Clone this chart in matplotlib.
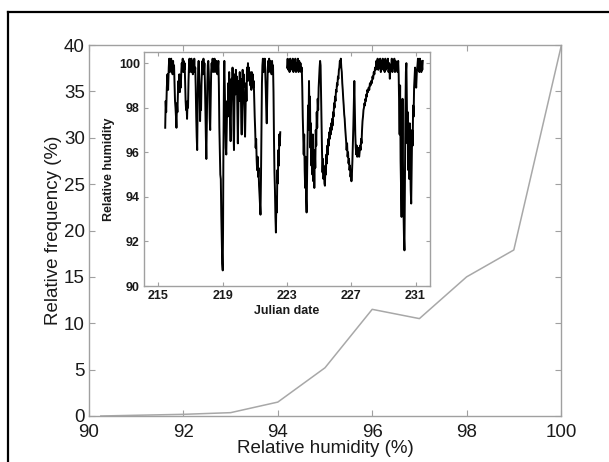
import numpy as np
import matplotlib
matplotlib.use("Agg")
import matplotlib.pyplot as plt
from matplotlib.lines import Line2D

plt.rcParams['font.family'] = ['Liberation Sans', 'DejaVu Sans']

# main panel: frequency distribution of relative humidity
rh_bins = [90.25, 91, 92, 93, 94, 95, 96, 97, 98, 99, 100]
rel_freq = [0.0, 0.08, 0.18, 0.36, 1.5, 5.2, 11.5, 10.5, 15.0, 17.9, 39.8]

# inset: relative humidity time series (Julian date, RH)
jd = [215.42, 215.45, 215.48, 215.52, 215.56, 215.60, 215.64, 215.67, 215.70, 215.73,
      215.76, 215.79, 215.82, 215.85, 215.88, 215.91, 215.94, 215.97, 216.00, 216.03,
      216.06, 216.09, 216.12, 216.15, 216.18, 216.21, 216.24, 216.27, 216.30, 216.33,
      216.36, 216.39, 216.42, 216.45, 216.48, 216.51, 216.54, 216.57, 216.60, 216.63,
      216.66, 216.69, 216.72, 216.75, 216.78, 216.81, 216.84, 216.87, 216.90, 216.93,
      216.96, 216.99, 217.02, 217.05, 217.08, 217.11, 217.14, 217.17, 217.20, 217.23,
      217.26, 217.29, 217.32, 217.35, 217.38, 217.41, 217.44, 217.47, 217.50, 217.53,
      217.56, 217.59, 217.62, 217.65, 217.68, 217.71, 217.74, 217.77, 217.80, 217.83,
      217.86, 217.89, 217.92, 217.95, 217.98, 218.01, 218.04, 218.07, 218.10, 218.13,
      218.16, 218.19, 218.22, 218.25, 218.28, 218.31, 218.34, 218.37, 218.40, 218.43,
      218.46, 218.49, 218.52, 218.55, 218.58, 218.61, 218.64, 218.67, 218.70, 218.73,
      218.76, 218.79, 218.82, 218.85, 218.88, 218.91, 218.94, 218.97, 219.00, 219.02,
      219.04, 219.06, 219.08, 219.10, 219.13, 219.16, 219.19, 219.22, 219.25, 219.28,
      219.31, 219.34, 219.37, 219.40, 219.43, 219.46, 219.49, 219.52, 219.55, 219.58,
      219.61, 219.64, 219.67, 219.70, 219.73, 219.76, 219.79, 219.82, 219.85, 219.88,
      219.91, 219.94, 219.97, 220.00, 220.03, 220.06, 220.09, 220.12, 220.15, 220.18,
      220.21, 220.24, 220.27, 220.30, 220.33, 220.36, 220.39, 220.42, 220.45, 220.48,
      220.51, 220.54, 220.57, 220.60, 220.63, 220.66, 220.69, 220.72, 220.75, 220.78,
      220.81, 220.84, 220.87, 220.90, 220.93, 220.96, 220.99, 221.02, 221.05, 221.08,
      221.11, 221.14, 221.17, 221.20, 221.23, 221.26, 221.29, 221.32, 221.35, 221.38,
      221.41, 221.44, 221.47, 221.50, 221.53, 221.56, 221.59, 221.62, 221.65, 221.68,
      221.71, 221.74, 221.77, 221.80, 221.83, 221.86, 221.89, 221.92, 221.95, 221.98,
      222.01, 222.04, 222.07, 222.10, 222.13, 222.16, 222.19, 222.22, 222.25, 222.28,
      222.31, 222.34, 222.37, 222.40, 222.43, 222.46, 222.49, 222.52, 222.55, 222.58,
      222.80,
      223.00, 223.04, 223.08, 223.12, 223.16, 223.20, 223.24, 223.28, 223.32, 223.36,
      223.40, 223.44, 223.48, 223.52, 223.56, 223.60, 223.64, 223.68, 223.72, 223.76,
      223.80, 223.84, 223.88, 223.92, 223.95, 223.98, 224.01, 224.04, 224.07, 224.10,
      224.13, 224.16, 224.19, 224.22, 224.25, 224.28, 224.31, 224.34, 224.37, 224.40,
      224.43, 224.46, 224.49, 224.52, 224.55, 224.58, 224.61, 224.64, 224.67, 224.70,
      224.73, 224.76, 224.79, 224.82, 224.85, 224.88, 224.91, 224.94, 224.97, 225.00,
      225.03, 225.06, 225.09, 225.12, 225.15, 225.18, 225.21, 225.24, 225.27, 225.30,
      225.33, 225.36, 225.39, 225.42, 225.45, 225.48, 225.51, 225.54, 225.57, 225.60,
      225.63, 225.66, 225.69, 225.72, 225.75, 225.78, 225.81, 225.84, 225.87, 225.90,
      225.93, 225.96, 225.99, 226.02, 226.05, 226.08, 226.11, 226.14, 226.17, 226.20,
      226.23, 226.26, 226.29, 226.32, 226.35, 226.38, 226.41, 226.44, 226.47, 226.50,
      226.53, 226.56, 226.59, 226.62, 226.65, 226.68, 226.71, 226.74, 226.77, 226.80,
      226.83, 226.86, 226.89, 226.92, 226.95, 226.98, 227.01, 227.04, 227.07, 227.10,
      227.13, 227.16, 227.19, 227.22, 227.25, 227.28, 227.31, 227.34, 227.37, 227.40,
      227.43, 227.46, 227.49, 227.52, 227.55, 227.58, 227.61, 227.64, 227.67, 227.70,
      227.73, 227.76, 227.79, 227.82, 227.85, 227.88, 227.91, 227.94, 227.97, 228.00,
      228.04, 228.08, 228.12, 228.16, 228.20, 228.24, 228.28, 228.32, 228.36, 228.40,
      228.44, 228.48, 228.52, 228.56, 228.60, 228.64, 228.68, 228.72, 228.76, 228.80,
      228.84, 228.88, 228.92, 228.96, 229.00, 229.04, 229.08, 229.12, 229.16, 229.20,
      229.24, 229.28, 229.32, 229.36, 229.40, 229.44, 229.48, 229.52, 229.56, 229.60,
      229.64, 229.68, 229.72, 229.76, 229.80, 229.84, 229.88, 229.92, 229.95, 229.98,
      230.01, 230.04, 230.07, 230.10, 230.13, 230.16, 230.19, 230.22, 230.25, 230.28,
      230.31, 230.34, 230.37, 230.40, 230.43, 230.46, 230.49, 230.52, 230.55, 230.58,
      230.61, 230.64, 230.67, 230.70, 230.73, 230.76, 230.79, 230.82, 230.85, 230.88,
      230.91, 230.94, 230.97, 231.00, 231.04, 231.08, 231.12, 231.15, 231.18, 231.21,
      231.24, 231.27, 231.30, 231.33, 231.36, 231.39, 231.42, 231.45]

rh = [97.1, 98.3, 97.8, 98.9, 99.5, 98.8, 99.8, 100.2, 99.6, 100.1,
      99.7, 100.2, 99.6, 100.0, 99.5, 100.1, 99.6, 99.9, 99.0, 98.3,
      98.0, 97.6, 97.1, 98.2, 97.8, 98.6, 99.2, 98.8, 99.5, 98.7,
      99.3, 98.9, 99.6, 100.0, 99.7, 100.2, 99.6, 100.1, 99.7, 100.0,
      99.1, 98.3, 97.9, 98.1, 97.5, 98.3, 98.0, 99.2, 99.9, 100.2,
      99.6, 100.1, 99.7, 100.2, 99.6, 100.0, 99.5, 100.1, 99.7, 100.2,
      99.6, 99.8, 98.9, 97.6, 96.7, 96.1, 98.2, 99.7, 100.1, 99.5,
      98.9, 97.4, 98.3, 97.9, 99.1, 99.8, 100.1, 99.5, 100.2, 99.6,
      100.0, 99.2, 97.9, 96.7, 95.7, 97.3, 99.0, 99.9, 100.1, 99.6,
      98.8, 97.5, 97.0, 98.4, 99.6, 100.0, 99.7, 100.2, 99.6, 100.1,
      99.7, 100.2, 99.6, 100.0, 99.7, 100.1, 99.8, 99.5, 99.8, 100.1,
      99.0, 97.1, 96.0, 95.0, 94.8, 93.2, 92.0, 91.0, 90.7, 92.5,
      95.8, 97.8, 99.5, 100.1, 98.7, 97.4, 96.2, 95.9, 97.1, 98.3,
      97.6, 99.1, 98.4, 99.6, 98.7, 97.3, 96.5, 98.1, 99.3, 98.5,
      99.8, 98.9, 97.0, 96.1, 98.2, 99.5, 98.6, 99.7, 98.8, 99.4,
      97.9, 96.4, 97.8, 99.2, 98.3, 99.6, 98.5, 99.3, 97.6, 96.8,
      98.4, 99.7, 98.9, 99.5, 98.2, 97.4, 96.7, 98.0, 99.1, 98.3,
      99.8, 99.2, 100.0, 99.4, 99.8, 99.2, 99.6, 99.0, 99.4, 98.8,
      99.6, 99.1, 99.5, 98.9, 99.2, 98.4, 97.6, 97.0, 96.2, 96.6,
      95.7, 95.2, 95.8, 94.9, 95.3, 94.5, 94.1, 93.6, 93.2, 94.8,
      97.2, 99.1, 99.9, 100.2, 99.6, 100.1, 99.7, 100.2, 99.5, 98.8,
      97.9, 97.3, 98.6, 99.7, 100.1, 99.6, 100.2, 99.7, 100.1, 99.6,
      100.0, 99.5, 100.1, 99.7, 99.9, 98.7, 96.6, 95.1, 94.3, 93.1,
      92.4, 94.0, 93.3, 95.2, 94.6, 96.1, 95.4, 96.8, 96.3, 96.9,
      np.nan,
      99.8, 100.2, 99.7, 100.1, 99.6, 100.2, 99.7, 100.1, 99.8, 100.2,
      99.6, 100.1, 99.7, 100.2, 99.6, 100.0, 99.7, 100.2, 99.6, 100.1,
      99.7, 100.0, 99.6, 99.8, 98.9, 97.6, 96.7, 95.9, 96.8, 95.2,
      94.4, 95.8, 93.9, 93.3, 95.0, 96.9, 98.1, 97.0, 99.2, 97.4,
      98.5, 96.2, 97.3, 95.4, 96.6, 95.0, 96.8, 94.7, 95.9, 94.4,
      96.1, 95.3, 97.0, 96.3, 97.8, 97.1, 98.4, 97.9, 98.9, 99.4,
      99.8, 100.1, 99.9, 98.6, 97.2, 96.0, 95.1, 95.7, 94.8, 95.3,
      94.6, 94.5, 95.4, 95.0, 95.9, 95.5, 96.3, 95.9, 96.6, 96.3,
      96.9, 96.6, 97.1, 96.8, 97.3, 97.0, 97.5, 97.2, 97.8, 97.6,
      98.2, 98.0, 98.5, 98.3, 98.8, 98.7, 99.1, 99.0, 99.4, 99.3,
      99.7, 99.8, 100.1, 99.9, 100.2, 99.8, 99.6, 99.1, 98.8, 98.4,
      98.1, 97.7, 97.5, 97.1, 96.8, 96.5, 96.1, 96.4, 95.8, 96.0,
      95.5, 95.7, 95.2, 95.4, 94.9, 95.1, 94.7, 95.0, 95.6, 96.4,
      97.2, 98.3, 99.2, 98.0, 96.8, 96.2, 95.9, 96.3, 95.8, 96.1,
      95.9, 96.2, 95.8, 96.0, 96.3, 96.1, 96.6, 96.4, 97.0, 97.4,
      97.6, 97.9, 98.0, 98.2, 98.1, 98.4, 98.3, 98.6, 98.5, 98.8,
      98.7, 98.9, 98.8, 99.1, 99.0, 99.2, 99.1, 99.4, 99.3, 99.6,
      99.5, 99.8, 99.7, 100.1, 99.8, 100.2, 99.7, 100.1, 99.8, 100.2,
      99.6, 100.1, 99.8, 100.2, 99.7, 100.0, 99.6, 100.2, 99.7, 100.1,
      99.8, 100.2, 99.6, 100.0, 99.3, 99.9, 99.7, 100.2, 99.6, 100.1,
      99.8, 100.2, 99.6, 100.1, 99.7, 100.0, 99.6, 100.1, 99.5, 98.2,
      96.8, 99.0, 95.6, 94.2, 93.1, 96.0, 98.4, 95.3, 93.4, 92.2,
      91.6, 94.5, 97.8, 99.6, 100.0, 98.2, 96.4, 97.8, 95.2, 96.9,
      94.8, 97.3, 95.6, 94.3, 93.7, 95.5, 97.0, 96.3, 98.1, 97.6,
      98.9, 99.4, 99.8, 99.3, 98.9, 99.6, 99.9, 100.2, 99.7, 100.1,
      99.6, 100.2, 99.7, 100.1, 99.6, 100.0, 99.7, 100.1]

fig = plt.figure(figsize=(6.09, 4.62), dpi=100)

spine_col = '#a0a0a0'
txt_col = '#1a1a1a'

ax = fig.add_axes([89/609, 1-416/462, 472/609, 371/462])
ax.plot(rh_bins, rel_freq, color='#a8a8a8', lw=1.1)
ax.set_xlim(90, 100)
ax.set_ylim(0, 40)
ax.set_xticks(np.arange(90, 101, 2))
ax.set_yticks(np.arange(0, 41, 5))
ax.tick_params(direction='in', top=True, right=True, length=4, width=0.8,
               color=spine_col, labelsize=13.5, labelcolor=txt_col, pad=4)
ax.tick_params(axis='x', pad=6)
ax.tick_params(axis='y', pad=3)
for s in ax.spines.values():
    s.set_color(spine_col)
    s.set_linewidth(1.0)
ax.set_xlabel('Relative humidity (%)', fontsize=13.5, color=txt_col, labelpad=-1)
ax.set_ylabel('Relative frequency (%)', fontsize=13.5, color=txt_col, labelpad=1)

# inset
ins = fig.add_axes([144/609, 1-286/462, 286/609, 234/462])
ins.plot(jd, rh, color='black', lw=1.4)
ins.set_xlim(214.1, 231.9)
ins.set_ylim(90, 100.5)
ins.set_xticks([215, 219, 223, 227, 231])
ins.set_yticks([90, 92, 94, 96, 98, 100])
ins.tick_params(direction='in', top=True, right=True, length=3, width=0.8,
                color=spine_col, labelsize=9, labelcolor=txt_col, pad=3)
for lab in ins.get_xticklabels() + ins.get_yticklabels():
    lab.set_fontweight('bold')
for s in ins.spines.values():
    s.set_color(spine_col)
    s.set_linewidth(1.0)
ins.set_xlabel('Julian date', fontsize=9, fontweight='bold', color=txt_col, labelpad=2)
ins.set_ylabel('Relative humidity', fontsize=9, fontweight='bold', color=txt_col, labelpad=3)

# outer frame lines (page border)
fig.add_artist(Line2D([8/609, 8/609], [0, 1-12/462], color='black', lw=1.6))
fig.add_artist(Line2D([8/609, 1], [1-12/462, 1-12/462], color='black', lw=1.6))

fig.savefig('out.png', dpi=100)
